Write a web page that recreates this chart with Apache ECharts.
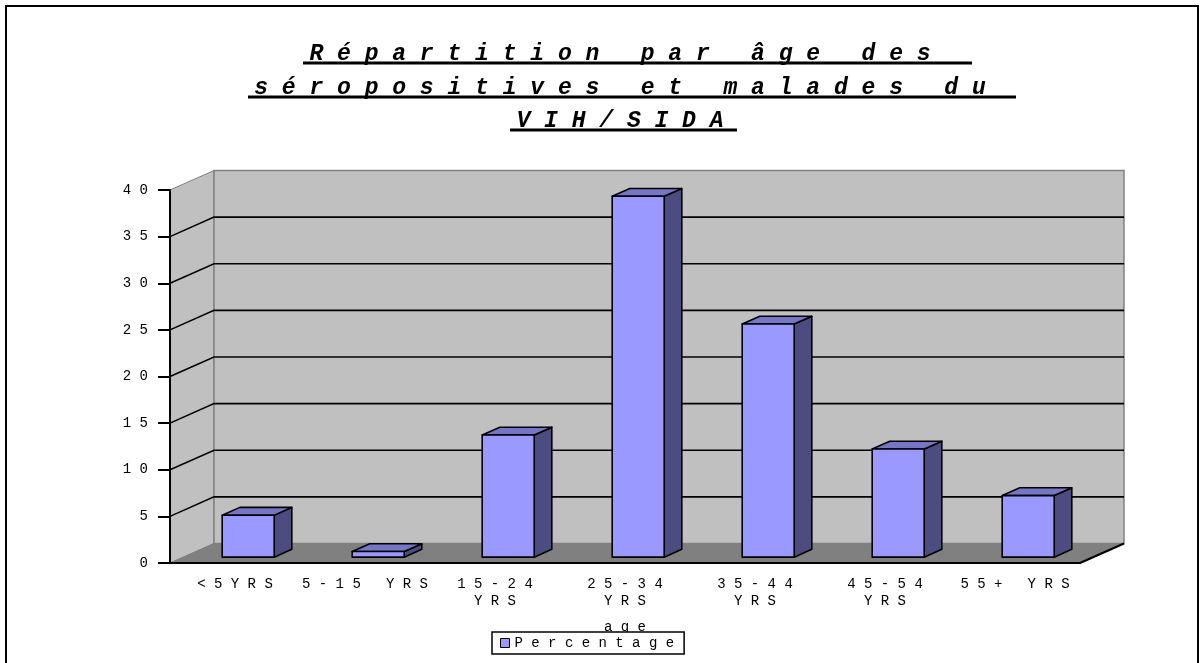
<!DOCTYPE html>
<html>
<head>
<meta charset="utf-8">
<script src="https://cdn.jsdelivr.net/npm/echarts@6/dist/echarts.min.js"></script>
<style>
  html, body { margin: 0; padding: 0; background: #fff; }
  #chart { width: 1204px; height: 663px; }
</style>
</head>
<body>
<div id="chart"></div>
<script>
var categories = ['<5YRS', '5-15 YRS', '15-24 YRS', '25-34 YRS', '35-44 YRS', '45-54 YRS', '55+ YRS'];
var percentage = [4.5, 0.6, 13.1, 38.7, 25.0, 11.6, 6.6];
var yTicks = [0, 5, 10, 15, 20, 25, 30, 35, 40];
var titleLines = ['Répartition par âge des', 'séropositives et malades du', 'VIH/SIDA'];

var FONT = '"Liberation Mono", "Courier New", monospace';
// depth vector of the fake 3d box
var DX = 44, DY = -19.5;

// the old excel look: letters spread apart
function spaced(s) {
  return s.split('').join(' ');
}

function renderWalls(params, api) {
  var cs = params.coordSys;
  var x0 = cs.x, x1 = cs.x + cs.width;
  var yTop = api.coord([0, yTicks[yTicks.length - 1]])[1];
  var yBot = api.coord([0, yTicks[0]])[1];
  return {
    type: 'group',
    children: [
      { type: 'polygon', shape: { points: [[x0, yTop], [x0 + DX, yTop + DY], [x0 + DX, yBot + DY], [x0, yBot]] },
        style: { fill: '#c0c0c0', stroke: '#808080', lineWidth: 1 } },
      { type: 'rect', shape: { x: x0 + DX, y: yTop + DY, width: x1 - x0, height: yBot - yTop },
        style: { fill: '#c0c0c0', stroke: '#808080', lineWidth: 1.5 } },
      { type: 'polygon', shape: { points: [[x0, yBot], [x1, yBot], [x1 + DX, yBot + DY], [x0 + DX, yBot + DY]] },
        style: { fill: '#808080', stroke: '#808080', lineWidth: 1 } },
      { type: 'line', shape: { x1: x1, y1: yBot, x2: x1 + DX, y2: yBot + DY },
        style: { stroke: '#000', lineWidth: 2 } }
    ]
  };
}

function renderGridLine(params, api) {
  var cs = params.coordSys;
  var y = api.coord([0, api.value(1)])[1];
  return {
    type: 'polyline',
    shape: { points: [[cs.x, y], [cs.x + DX, y + DY], [cs.x + cs.width + DX, y + DY]] },
    style: { stroke: '#000', lineWidth: 1.6, fill: null }
  };
}

function renderBar(params, api) {
  var base = api.coord([api.value(0), 0]);
  var top = api.coord([api.value(0), api.value(1)]);
  var band = api.size([1, 0])[0];
  var w = band * 0.4;
  var ox = DX * 0.3, oy = DY * 0.3;          // front face sits 30% into the depth
  var ddx = DX * 0.4, ddy = DY * 0.4;        // bar depth
  var xl = base[0] - w / 2 + ox, xr = xl + w;
  var yt = top[1] + oy, yb = base[1] + oy;
  var line = { stroke: '#000', lineWidth: 1.6, lineJoin: 'round' };
  return {
    type: 'group',
    children: [
      { type: 'polygon', shape: { points: [[xr, yt], [xr + ddx, yt + ddy], [xr + ddx, yb + ddy], [xr, yb]] },
        style: Object.assign({ fill: '#4c4c80' }, line) },
      { type: 'polygon', shape: { points: [[xl, yt], [xr, yt], [xr + ddx, yt + ddy], [xl + ddx, yt + ddy]] },
        style: Object.assign({ fill: '#7676c6' }, line) },
      { type: 'rect', shape: { x: xl, y: yt, width: w, height: yb - yt },
        style: Object.assign({ fill: '#9999ff' }, line) }
    ]
  };
}

var chart = echarts.init(document.getElementById('chart'));

var titleGraphics = [];
var titleY = [54, 88, 121];
var underline = [[303, 972, 63], [248, 1016, 97], [510, 737, 130]];
titleLines.forEach(function (t, i) {
  titleGraphics.push({
    type: 'text', x: 620, y: titleY[i], z: 10,
    style: { text: spaced(t), font: 'italic bold 23px ' + FONT, fill: '#000', align: 'center', verticalAlign: 'middle' }
  });
  titleGraphics.push({
    type: 'line', z: 10,
    shape: { x1: underline[i][0], y1: underline[i][2], x2: underline[i][1], y2: underline[i][2] },
    style: { stroke: '#000', lineWidth: 3 }
  });
});

var option = {
  animation: false,
  textStyle: { fontFamily: FONT },
  grid: { left: 170, right: 124, top: 190, bottom: 100 },
  legend: {
    data: ['Percentage'],
    left: 492, top: 632, z: 10,
    icon: 'rect', itemWidth: 9, itemHeight: 9,
    padding: [4, 10, 4, 8],
    borderColor: '#000', borderWidth: 1.5,
    backgroundColor: '#fff',
    itemStyle: { color: '#9999ff', borderColor: '#000', borderWidth: 1 },
    textStyle: { fontFamily: FONT, fontSize: 14, color: '#000' },
    formatter: function (n) { return spaced(n); }
  },
  xAxis: {
    type: 'category',
    data: categories,
    z: 5,
    axisLine: { lineStyle: { color: '#000', width: 2 } },
    axisTick: { length: 8, lineStyle: { color: '#000', width: 2 } },
    axisLabel: {
      interval: 0, margin: 13, color: '#000', fontFamily: FONT, fontSize: 14, lineHeight: 17,
      formatter: function (v) {
        if (v.length > 8) return v.split(' ').map(spaced).join('\n');
        return spaced(v);
      }
    },
    name: spaced('age'),
    nameLocation: 'middle',
    nameGap: 57,
    nameTextStyle: { color: '#000', fontFamily: FONT, fontSize: 14 }
  },
  yAxis: {
    type: 'value',
    min: yTicks[0], max: yTicks[yTicks.length - 1], interval: 5,
    z: 5,
    axisLine: { show: true, lineStyle: { color: '#000', width: 2 } },
    axisTick: { show: true, length: 12, lineStyle: { color: '#000', width: 2 } },
    axisLabel: { margin: 22, color: '#000', fontFamily: FONT, fontSize: 14,
      formatter: function (v) { return spaced(String(v)); } },
    splitLine: { show: false }
  },
  graphic: [
    { type: 'rect', z: 10, shape: { x: 6, y: 6, width: 1192, height: 700 },
      style: { fill: null, stroke: '#000', lineWidth: 2 } }
  ].concat(titleGraphics),
  series: [
    { name: 'walls', type: 'custom', silent: true, z: 1, renderItem: renderWalls, data: [[0, 0]] },
    { name: 'gridlines', type: 'custom', silent: true, z: 2, renderItem: renderGridLine,
      data: yTicks.slice(1, -1).map(function (v) { return [0, v]; }) },
    { name: 'Percentage', type: 'custom', z: 3, renderItem: renderBar,
      itemStyle: { color: '#9999ff', borderColor: '#000', borderWidth: 1 },
      data: percentage.map(function (v, i) { return [i, v]; }) }
  ]
};

chart.setOption(option);
</script>
</body>
</html>
